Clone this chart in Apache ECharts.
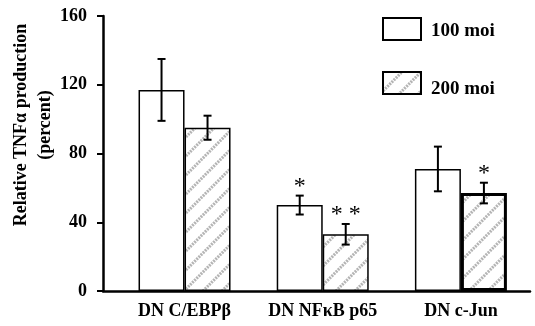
<!DOCTYPE html>
<html>
<head>
<meta charset="utf-8">
<script src="https://cdn.jsdelivr.net/npm/echarts@6/dist/echarts.min.js"></script>
<style>
  html, body { margin: 0; padding: 0; background: #fff; }
  #chart { width: 535px; height: 326px; }
</style>
</head>
<body>
<div id="chart"></div>
<script>
// 数据
var categories = ['DN C/EBP\u03b2', 'DN NF\u03baB p65', 'DN c-Jun']
var positions = [1, 2, 3]
var moi100 = [117, 50, 71]
var moi100Err = [18, 5.5, 13]
var moi200 = [95, 33, 57]
var moi200Err = [7, 6, 6]
var stars100 = ['', '*', '']
var stars200 = ['', '**', '*']
var yTicks = [0, 40, 80, 120, 160]

var FONT = '"Liberation Serif", "Times New Roman", serif'

// 斜线填充
function hatchPattern () {
  var c = document.createElement('canvas')
  var s = 19
  c.width = s
  c.height = s
  var ctx = c.getContext('2d')
  ctx.fillStyle = '#fff'
  ctx.fillRect(0, 0, s, s)
  ctx.strokeStyle = '#b4b4b4'
  ctx.lineWidth = 3
  ctx.setLineDash([2, 1])
  ctx.beginPath()
  ctx.moveTo(-2, s + 2)
  ctx.lineTo(s + 2, -2)
  ctx.moveTo(-2, 2)
  ctx.lineTo(2, -2)
  ctx.moveTo(s - 2, s + 2)
  ctx.lineTo(s + 2, s - 2)
  ctx.stroke()
  return { image: c, repeat: 'repeat' }
}

// 误差线
function errorBars (values, errs, stars, shift) {
  return {
    type: 'custom',
    z: 5,
    data: positions.map(function (p, i) {
      return [p, values[i] - errs[i], values[i] + errs[i]]
    }),
    renderItem: function (params, api) {
      var top = api.coord([api.value(0), api.value(2)])
      var bot = api.coord([api.value(0), api.value(1)])
      var cx = top[0] + shift
      var style = { stroke: '#000', lineWidth: 2 }
      var children = [
        { type: 'line', shape: { x1: cx, y1: top[1], x2: cx, y2: bot[1] }, style: style },
        { type: 'line', shape: { x1: cx - 4, y1: top[1], x2: cx + 4, y2: top[1] }, style: style },
        { type: 'line', shape: { x1: cx - 4, y1: bot[1], x2: cx + 4, y2: bot[1] }, style: style }
      ]
      var star = stars[params.dataIndex]
      if (star) {
        children.push({
          type: 'text',
          x: cx,
          y: top[1] + 3,
          style: {
            text: star.split('').join(' '),
            font: '24px ' + FONT,
            fill: '#000',
            align: 'center',
            verticalAlign: 'bottom'
          }
        })
      }
      return { type: 'group', children: children }
    }
  }
}

var chart = echarts.init(document.getElementById('chart'))
var hatch = hatchPattern()

var options = {
  animation: false,
  backgroundColor: '#fff',
  grid: { left: 103, right: 5, top: 16, bottom: 35 },
  legend: {
    orient: 'vertical',
    left: 377,
    top: 12,
    itemWidth: 38,
    itemHeight: 22,
    itemGap: 30,
    icon: 'rect',
    selectedMode: false,
    formatter: function (name) {
      return name === '100 moi' ? '{a|' + name + '}' : '{b|' + name + '}'
    },
    textStyle: {
      rich: {
        a: { fontFamily: FONT, fontWeight: 'bold', fontSize: 19, color: '#000', padding: [4, 0, 0, 5] },
        b: { fontFamily: FONT, fontWeight: 'bold', fontSize: 19, color: '#000', padding: [12, 0, 0, 5] }
      }
    },
    data: ['100 moi', '200 moi']
  },
  xAxis: {
    type: 'value',
    min: 0.41,
    max: 3.5,
    splitLine: { show: false },
    axisLine: { show: true, lineStyle: { color: '#000', width: 2.5 } },
    axisTick: { show: false },
    axisLabel: {
      customValues: positions,
      margin: 11,
      color: '#000',
      fontFamily: FONT,
      fontWeight: 'bold',
      fontSize: 18,
      formatter: function (v) {
        return categories[Math.round(v) - 1] || ''
      }
    }
  },
  yAxis: {
    type: 'value',
    min: 0,
    max: 160,
    interval: 40,
    splitLine: { show: false },
    axisLine: { show: true, lineStyle: { color: '#000', width: 2.5 } },
    axisTick: { show: true, length: 6, lineStyle: { color: '#000', width: 2 },
      customValues: yTicks },
    axisLabel: {
      customValues: yTicks,
      margin: 16,
      color: '#000',
      fontFamily: FONT,
      fontWeight: 'bold',
      fontSize: 18
    }
  },
  graphic: [{
    type: 'text',
    x: 33,
    y: 125,
    rotation: Math.PI / 2,
    style: {
      text: 'Relative TNF\u03b1 production\n(percent)',
      font: 'bold 18px ' + FONT,
      fill: '#000',
      align: 'center',
      verticalAlign: 'middle',
      lineHeight: 24
    }
  }],
  series: [
    {
      name: '100 moi',
      type: 'bar',
      barWidth: 46,
      barGap: '0%',
      itemStyle: { color: '#fff', borderColor: '#000', borderWidth: 1.5 },
      data: positions.map(function (p, i) { return [p, moi100[i]] })
    },
    {
      name: '200 moi',
      type: 'bar',
      barWidth: 46,
      barGap: '0%',
      itemStyle: { color: hatch, borderColor: '#000', borderWidth: 1.5 },
      data: positions.map(function (p, i) {
        var d = { value: [p, moi200[i]] }
        if (i === 2) d.itemStyle = { borderWidth: 3 }
        return d
      })
    },
    errorBars(moi100, moi100Err, stars100, -23),
    errorBars(moi200, moi200Err, stars200, 23)
  ]
}

chart.setOption(options)
</script>
</body>
</html>
